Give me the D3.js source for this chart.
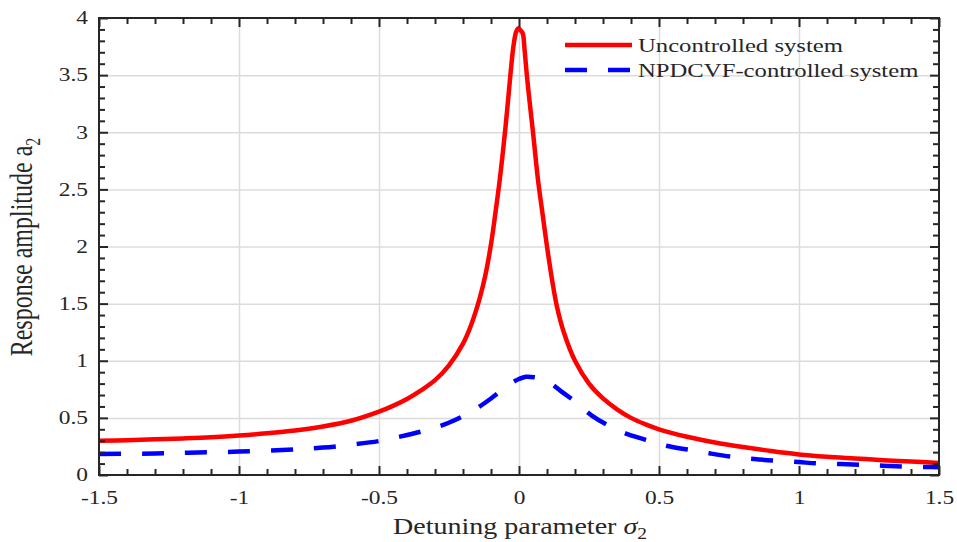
<!DOCTYPE html>
<html>
<head>
<meta charset="utf-8">
<script src="https://cdn.jsdelivr.net/npm/d3@7"></script>
<style>
  html, body { margin: 0; padding: 0; background: #fff; }
  svg { display: block; }
  text { font-family: "Liberation Serif", "Times New Roman", serif; fill: #262626; }
</style>
</head>
<body>
<svg id="chart" width="957" height="542"></svg>
<script>
// ---------------- data ----------------
const xTicks = [-1.5, -1, -0.5, 0, 0.5, 1, 1.5];
const xTickLabels = ["-1.5", "-1", "-0.5", "0", "0.5", "1", "1.5"];
const yTicks = [0, 0.5, 1, 1.5, 2, 2.5, 3, 3.5, 4];
const yTickLabels = ["0", "0.5", "1", "1.5", "2", "2.5", "3", "3.5", "4"];

const seriesNames = ["Uncontrolled system", "NPDCVF-controlled system"];

// Uncontrolled system (solid red)
const sigmaUnc = [-1.5, -1.4, -1.3, -1.2, -1.1, -1.0, -0.9, -0.8, -0.7, -0.6, -0.5, -0.45, -0.4, -0.35, -0.3, -0.25, -0.2, -0.17, -0.14, -0.12, -0.1, -0.085, -0.068, -0.048, -0.03, -0.02, -0.01, -0.002, 0.008, 0.014, 0.02, 0.028, 0.04, 0.05, 0.068, 0.085, 0.1, 0.12, 0.135, 0.16, 0.2, 0.25, 0.3, 0.35, 0.4, 0.45, 0.5, 0.6, 0.7, 0.8, 0.9, 1.0, 1.1, 1.2, 1.3, 1.4, 1.5];
const ampUnc   = [0.300, 0.305, 0.312, 0.320, 0.330, 0.345, 0.365, 0.390, 0.425, 0.475, 0.555, 0.605, 0.665, 0.740, 0.830, 0.960, 1.150, 1.320, 1.550, 1.750, 2.020, 2.280, 2.600, 3.050, 3.520, 3.750, 3.880, 3.910, 3.885, 3.860, 3.720, 3.500, 3.220, 3.000, 2.580, 2.270, 2.000, 1.680, 1.480, 1.250, 1.000, 0.800, 0.670, 0.575, 0.500, 0.445, 0.400, 0.335, 0.285, 0.245, 0.210, 0.180, 0.160, 0.145, 0.130, 0.118, 0.105];

// NPDCVF-controlled system (dashed blue)
const sigmaCtrl = [-1.5, -1.3, -1.18, -1.0, -0.8, -0.7, -0.6, -0.5, -0.425, -0.35, -0.3, -0.253, -0.2, -0.15, -0.1, -0.06, -0.03, 0.0, 0.025, 0.055, 0.099, 0.152, 0.207, 0.26, 0.33, 0.39, 0.468, 0.53, 0.61, 0.68, 0.76, 0.84, 0.92, 1.0, 1.06, 1.15, 1.23, 1.3, 1.37, 1.45, 1.5];
const ampCtrl   = [0.184, 0.188, 0.195, 0.205, 0.225, 0.240, 0.265, 0.297, 0.336, 0.380, 0.415, 0.455, 0.515, 0.585, 0.670, 0.745, 0.800, 0.840, 0.860, 0.855, 0.825, 0.730, 0.630, 0.520, 0.420, 0.355, 0.298, 0.254, 0.220, 0.190, 0.160, 0.140, 0.125, 0.113, 0.102, 0.096, 0.088, 0.082, 0.075, 0.070, 0.068];

// ---------------- chart ----------------
const pL = 99, pR = 939, pT = 18, pB = 475;
const SX = 1.3; // horizontal glyph stretch of the reference

const svg = d3.select("#chart");
const x = d3.scaleLinear().domain([-1.5, 1.5]).range([pL, pR]);
const y = d3.scaleLinear().domain([0, 4]).range([pB, pT]);

const minorX = d3.range(-15, 16).map(d => d / 10).filter(v => !xTicks.some(t => Math.abs(t - v) < 1e-9));
const minorY = d3.range(0, 41).map(d => d / 10).filter(v => !yTicks.some(t => Math.abs(t - v) < 1e-9));

// grid
const grid = svg.append("g");
grid.append("g").attr("transform", `translate(0,${pB})`)
  .call(d3.axisBottom(x).tickValues(xTicks.slice(1, -1)).tickSize(-(pB - pT)).tickFormat(""))
  .call(g => g.select(".domain").remove())
  .call(g => g.selectAll("line").attr("stroke", "#dcdcdc").attr("stroke-width", 1.5));
grid.append("g").attr("transform", `translate(${pL},0)`)
  .call(d3.axisLeft(y).tickValues(yTicks.slice(1, -1)).tickSize(-(pR - pL)).tickFormat(""))
  .call(g => g.select(".domain").remove())
  .call(g => g.selectAll("line").attr("stroke", "#dcdcdc").attr("stroke-width", 1.5));

// curves
svg.append("clipPath").attr("id", "clip").append("rect")
  .attr("x", pL).attr("y", pT - 5).attr("width", pR - pL).attr("height", pB - pT + 5);

const line = d3.line().x(d => x(d[0])).y(d => y(d[1])).curve(d3.curveCatmullRom.alpha(0.5));
const unc = sigmaUnc.map((s, i) => [s, ampUnc[i]]);
const ctrl = sigmaCtrl.map((s, i) => [s, ampCtrl[i]]);

const plot = svg.append("g").attr("clip-path", "url(#clip)");
plot.append("path").datum(unc).attr("d", line)
  .attr("fill", "none").attr("stroke", "#ff0000").attr("stroke-width", 4.5).attr("stroke-linejoin", "round");
plot.append("path").datum(ctrl).attr("d", line)
  .attr("fill", "none").attr("stroke", "#0000ff").attr("stroke-width", 4.5)
  .attr("stroke-dasharray", "22,21");

// axes (ticks inward on all sides)
const axColor = "#262626";
function styleAxis(g) {
  g.select(".domain").remove();
  g.selectAll("line").attr("stroke", axColor).attr("stroke-width", 2);
}
const gb = svg.append("g").attr("transform", `translate(0,${pB})`)
  .call(d3.axisBottom(x).tickValues(xTicks).tickSize(-9).tickPadding(16)
    .tickFormat((d, i) => xTickLabels[i]))
  .call(styleAxis);
gb.selectAll("text").attr("font-size", 18).attr("fill", axColor)
  .attr("font-family", "Liberation Serif").attr("transform", `scale(${SX},1)`);
svg.append("g").attr("transform", `translate(0,${pB})`)
  .call(d3.axisBottom(x).tickValues(minorX).tickSize(-6).tickFormat("")).call(styleAxis);
svg.append("g").attr("transform", `translate(0,${pT})`)
  .call(d3.axisTop(x).tickValues(xTicks).tickSize(-9).tickFormat("")).call(styleAxis);
svg.append("g").attr("transform", `translate(0,${pT})`)
  .call(d3.axisTop(x).tickValues(minorX).tickSize(-6).tickFormat("")).call(styleAxis);
const gl = svg.append("g").attr("transform", `translate(${pL},0)`)
  .call(d3.axisLeft(y).tickValues(yTicks).tickSize(-9).tickPadding(8.5)
    .tickFormat((d, i) => yTickLabels[i]))
  .call(styleAxis);
gl.selectAll("text").attr("font-size", 18).attr("fill", axColor)
  .attr("font-family", "Liberation Serif").attr("transform", `scale(${SX},1)`);
svg.append("g").attr("transform", `translate(${pL},0)`)
  .call(d3.axisLeft(y).tickValues(minorY).tickSize(-6).tickFormat("")).call(styleAxis);
svg.append("g").attr("transform", `translate(${pR},0)`)
  .call(d3.axisRight(y).tickValues(yTicks).tickSize(-9).tickFormat("")).call(styleAxis);
svg.append("g").attr("transform", `translate(${pR},0)`)
  .call(d3.axisRight(y).tickValues(minorY).tickSize(-6).tickFormat("")).call(styleAxis);

// frame
svg.append("rect").attr("x", pL).attr("y", pT).attr("width", pR - pL).attr("height", pB - pT)
  .attr("fill", "none").attr("stroke", axColor).attr("stroke-width", 2);

// x label
const xl = svg.append("text")
  .attr("transform", `translate(520,534) scale(1.22,1)`)
  .attr("text-anchor", "middle").attr("font-size", 23);
xl.append("tspan").text("Detuning parameter ");
xl.append("tspan").attr("font-style", "italic").text("σ");
xl.append("tspan").attr("font-size", 16).attr("dy", 5).text("2");

// y label
const yl = svg.append("text")
  .attr("transform", `translate(32,247) scale(${SX},1) rotate(-90)`)
  .attr("text-anchor", "middle").attr("font-size", 24);
yl.append("tspan").text("Response amplitude a");
yl.append("tspan").attr("font-size", 16).attr("dy", 6).text("2");

// legend
const legend = svg.append("g");
const legY = [45, 70];
const legStyles = [{ c: "#ff0000", dash: null }, { c: "#0000ff", dash: "22,21" }];
seriesNames.forEach((name, i) => {
  legend.append("line").attr("x1", 565).attr("x2", 632).attr("y1", legY[i]).attr("y2", legY[i])
    .attr("stroke", legStyles[i].c).attr("stroke-width", 4.5)
    .attr("stroke-dasharray", legStyles[i].dash);
  legend.append("text").attr("transform", `translate(638,${legY[i] + 7}) scale(${SX},1)`)
    .attr("font-size", 19).text(name);
});
</script>
</body>
</html>
